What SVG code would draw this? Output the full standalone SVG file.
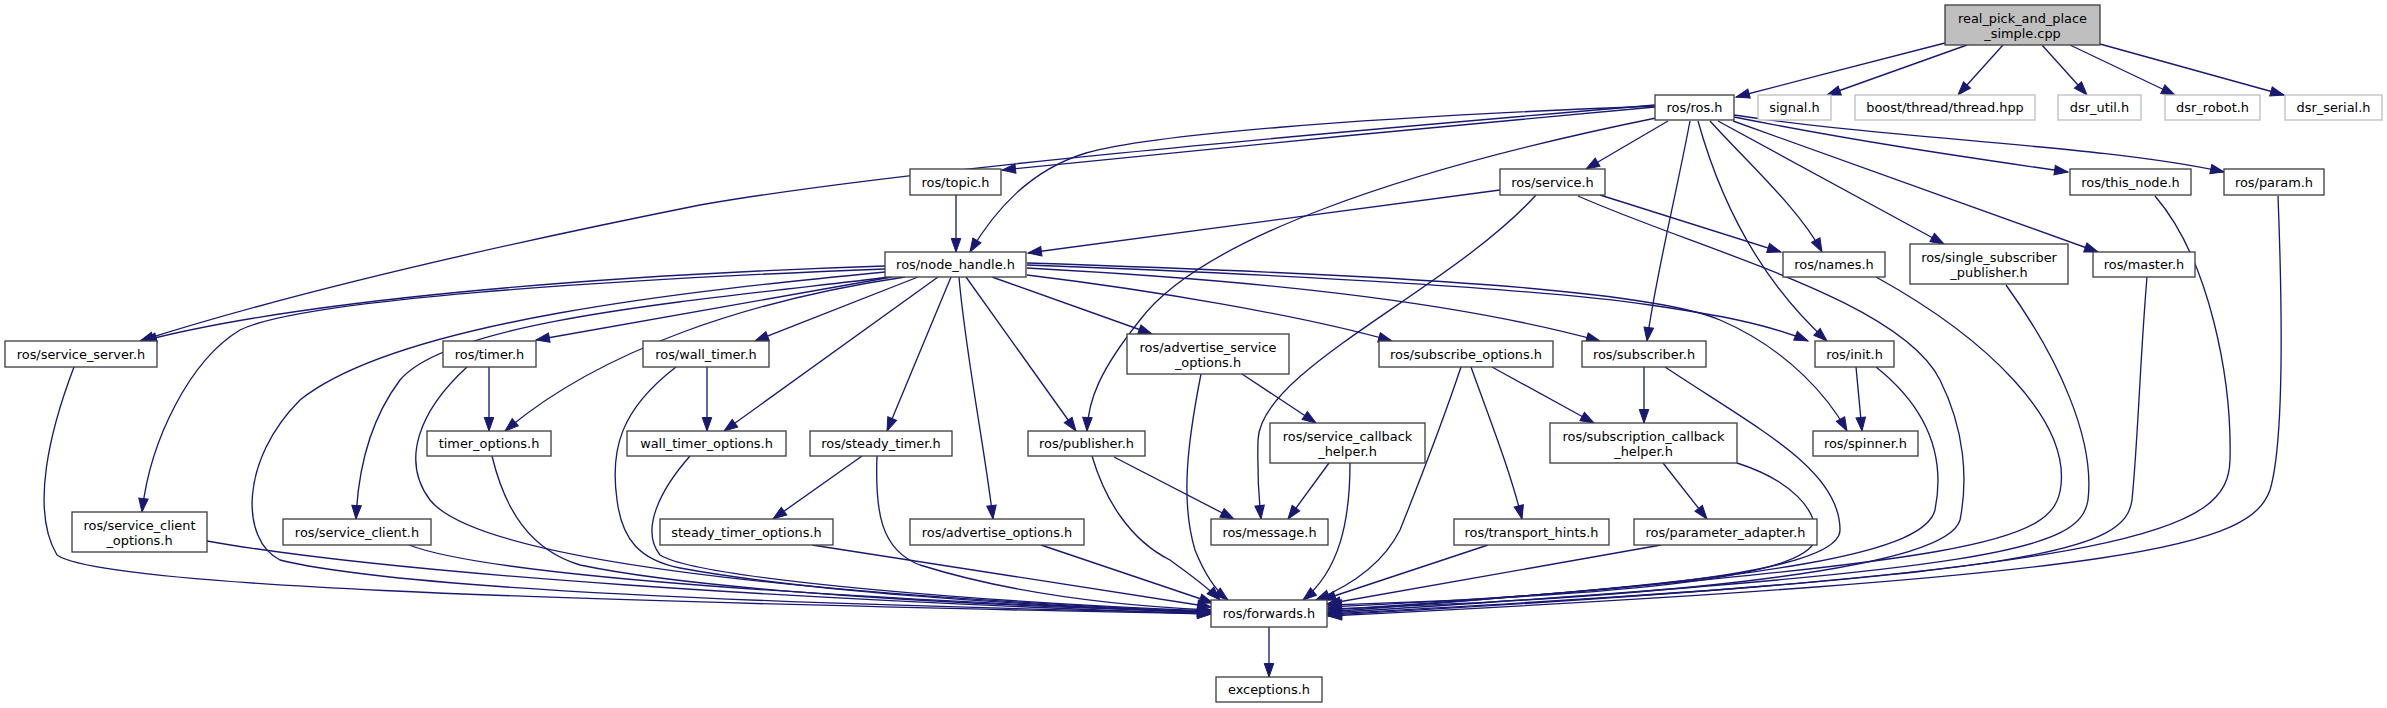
<svg xmlns="http://www.w3.org/2000/svg" width="2387" height="708" viewBox="0 0 2387 708">
<style>
.n rect{fill:#fff;stroke:#404040;stroke-width:1.33}
.n.g rect{stroke:#bfbfbf}
.n.r rect{fill:#bfbfbf}
text{font-family:"DejaVu Sans","Liberation Sans",sans-serif;font-size:12.9px;text-anchor:middle;fill:#000}
.e path{fill:none;stroke:#191970;stroke-width:1.33;marker-end:url(#a)}
</style>
<defs>
<marker id="a" markerWidth="15" markerHeight="11" refX="13.5" refY="4.75" orient="auto" markerUnits="userSpaceOnUse" overflow="visible"><path d="M0,0 L13.5,4.75 L0,9.5 z" fill="#191970" stroke="#191970" stroke-width="1"/></marker>
</defs>
<rect width="2387" height="708" fill="#fff"/>
<g class="e" id="edges">
<path d="M1945,43 C1900,55 1800,80 1736,97"/>
<path d="M1967,45 L1827,95"/>
<path d="M2003,45 L1958,95"/>
<path d="M2042,45 L2087,95"/>
<path d="M2070,45 L2175,95"/>
<path d="M2100,44 L2284,95"/>
<path d="M1655,107 C1450,125 1200,150 1002,170"/>
<path d="M1655,106 C1350,118 1150,135 1086,153 C1030,170 995,210 970,252"/>
<path d="M1655,105 C1300,135 900,170 700,205 C500,245 300,290 140,341"/>
<path d="M1656,118 C1400,170 1200,240 1140,320 C1100,370 1088,400 1087,431"/>
<path d="M1668,121 L1586,169"/>
<path d="M1690,121 C1675,200 1655,280 1647,341"/>
<path d="M1698,121 C1720,200 1760,280 1827,341"/>
<path d="M1710,121 C1750,165 1800,210 1822,252"/>
<path d="M1718,121 L1944,244"/>
<path d="M1733,121 L2098,252"/>
<path d="M1734,117 C1850,140 1950,155 2068,172"/>
<path d="M1734,115 C1900,140 2100,145 2224,172"/>
<path d="M956,195 L956,252"/>
<path d="M1500,190 L1028,253"/>
<path d="M1600,195 L1781,252"/>
<path d="M1536,195 C1450,290 1260,370 1258,440 C1257,480 1259,500 1261,519"/>
<path d="M1578,196 C1700,250 1900,300 1940,380 C1965,430 1968,480 1960,520 C1945,575 1600,600 1328,609"/>
<path d="M885,266 C600,275 300,300 143,341"/>
<path d="M885,269 C600,280 300,300 240,330 C190,360 150,440 142,512"/>
<path d="M885,272 C700,290 400,320 300,400 C240,460 240,540 280,560 C400,590 800,605 1211,613"/>
<path d="M890,277 C700,300 450,320 400,380 C370,420 358,470 356,519"/>
<path d="M892,277 L536,340"/>
<path d="M905,277 C750,300 600,350 505,431"/>
<path d="M918,277 L755,341"/>
<path d="M938,277 L724,431"/>
<path d="M951,277 L887,431"/>
<path d="M959,277 C965,350 985,450 993,519"/>
<path d="M966,277 L1076,431"/>
<path d="M992,277 L1152,334"/>
<path d="M1027,275 C1150,290 1300,315 1392,341"/>
<path d="M1027,268 C1250,280 1450,300 1600,341"/>
<path d="M1027,265 C1300,275 1550,290 1650,305 C1720,315 1770,325 1808,341"/>
<path d="M1027,263 C1400,275 1650,290 1720,320 C1790,350 1830,400 1847,431"/>
<path d="M74,367 C50,430 30,510 57,555 C100,585 500,600 1211,614"/>
<path d="M489,367 L489,431"/>
<path d="M467,367 C420,410 400,460 430,500 C470,550 700,590 1211,612"/>
<path d="M707,367 L707,431"/>
<path d="M676,367 C620,410 610,450 617,500 C622,540 640,560 680,568 C800,590 1000,605 1211,612"/>
<path d="M1242,374 L1316,423"/>
<path d="M1201,374 C1188,440 1180,500 1195,550 C1205,575 1215,590 1228,600"/>
<path d="M1471,367 C1490,420 1510,470 1522,519"/>
<path d="M1492,367 L1594,423"/>
<path d="M1461,367 C1440,430 1420,480 1400,530 C1380,570 1340,590 1316,600"/>
<path d="M1644,367 L1644,423"/>
<path d="M1665,367 C1760,430 1840,470 1840,530 C1840,565 1700,590 1328,607"/>
<path d="M1856,367 L1862,431"/>
<path d="M1876,367 C1930,410 1945,460 1935,510 C1925,550 1800,580 1328,610"/>
<path d="M1876,277 C1990,340 2068,420 2061,485 C2055,545 1980,560 1328,612"/>
<path d="M2006,285 C2060,360 2095,440 2088,500 C2080,550 2000,570 1328,613"/>
<path d="M2147,277 C2140,360 2138,440 2132,500 C2125,550 2050,575 1328,614"/>
<path d="M2155,196 C2210,260 2232,380 2230,460 C2228,530 2150,570 1328,615"/>
<path d="M2278,196 C2282,300 2285,440 2270,490 C2250,545 2150,575 1328,616"/>
<path d="M492,456 C505,510 530,550 580,565 C700,590 950,605 1211,612"/>
<path d="M690,456 C660,490 640,530 660,555 C700,580 1000,603 1211,611"/>
<path d="M862,456 L773,519"/>
<path d="M877,456 C875,510 880,550 920,565 C1000,590 1100,605 1211,610"/>
<path d="M1092,456 C1105,500 1130,540 1170,560 C1190,575 1205,585 1220,600"/>
<path d="M1114,457 L1234,519"/>
<path d="M1329,463 L1288,519"/>
<path d="M1350,463 C1350,520 1340,570 1303,600"/>
<path d="M1663,463 L1707,519"/>
<path d="M1737,463 C1790,480 1820,510 1815,540 C1805,575 1650,595 1328,605"/>
<path d="M207,541 C400,575 800,600 1211,614"/>
<path d="M409,545 C500,580 900,600 1211,613"/>
<path d="M812,545 L1211,607"/>
<path d="M1041,545 L1213,603"/>
<path d="M1488,545 L1322,600"/>
<path d="M1661,545 L1327,604"/>
<path d="M1269,627 L1269,677"/>
</g>
<g id="n_root" class="n r"><rect x="1945" y="5" width="155" height="40"/><text x="2022.5" y="23">real_pick_and_place</text><text x="2022.5" y="38">_simple.cpp</text></g>
<g id="n_ros" class="n"><rect x="1655" y="95" width="79" height="25"/><text x="1694.5" y="112">ros/ros.h</text></g>
<g id="n_signal" class="n g"><rect x="1758" y="95" width="73" height="25"/><text x="1794.5" y="112">signal.h</text></g>
<g id="n_boost" class="n g"><rect x="1855" y="95" width="180" height="25"/><text x="1945" y="112">boost/thread/thread.hpp</text></g>
<g id="n_dsr_util" class="n g"><rect x="2058" y="95" width="83" height="25"/><text x="2099.5" y="112">dsr_util.h</text></g>
<g id="n_dsr_robot" class="n g"><rect x="2165" y="95" width="95" height="25"/><text x="2212.5" y="112">dsr_robot.h</text></g>
<g id="n_dsr_serial" class="n g"><rect x="2285" y="95" width="97" height="25"/><text x="2333.5" y="112">dsr_serial.h</text></g>
<g id="n_topic" class="n"><rect x="910" y="169" width="91" height="26"/><text x="955.5" y="186.5">ros/topic.h</text></g>
<g id="n_service" class="n"><rect x="1500" y="169" width="105" height="26"/><text x="1552.5" y="186.5">ros/service.h</text></g>
<g id="n_this_node" class="n"><rect x="2070" y="169" width="121" height="26"/><text x="2130.5" y="186.5">ros/this_node.h</text></g>
<g id="n_param" class="n"><rect x="2224" y="169" width="100" height="26"/><text x="2274" y="186.5">ros/param.h</text></g>
<g id="n_node_handle" class="n"><rect x="885" y="252" width="141" height="25"/><text x="955.5" y="269">ros/node_handle.h</text></g>
<g id="n_names" class="n"><rect x="1783" y="252" width="102" height="25"/><text x="1834" y="269">ros/names.h</text></g>
<g id="n_single_sub" class="n"><rect x="1910" y="244" width="158" height="40"/><text x="1989" y="262">ros/single_subscriber</text><text x="1989" y="277">_publisher.h</text></g>
<g id="n_master" class="n"><rect x="2093" y="252" width="102" height="25"/><text x="2144" y="269">ros/master.h</text></g>
<g id="n_service_server" class="n"><rect x="5" y="341" width="152" height="26"/><text x="81" y="358.5">ros/service_server.h</text></g>
<g id="n_timer" class="n"><rect x="443" y="341" width="93" height="26"/><text x="489.5" y="358.5">ros/timer.h</text></g>
<g id="n_wall_timer" class="n"><rect x="643" y="341" width="126" height="26"/><text x="706" y="358.5">ros/wall_timer.h</text></g>
<g id="n_adv_srv_opt" class="n"><rect x="1127" y="334" width="162" height="40"/><text x="1208" y="352">ros/advertise_service</text><text x="1208" y="367">_options.h</text></g>
<g id="n_sub_opt" class="n"><rect x="1379" y="341" width="174" height="26"/><text x="1466" y="358.5">ros/subscribe_options.h</text></g>
<g id="n_subscriber" class="n"><rect x="1582" y="341" width="124" height="26"/><text x="1644" y="358.5">ros/subscriber.h</text></g>
<g id="n_init" class="n"><rect x="1815" y="341" width="79" height="26"/><text x="1854.5" y="358.5">ros/init.h</text></g>
<g id="n_timer_opt" class="n"><rect x="427" y="431" width="124" height="25"/><text x="489" y="448">timer_options.h</text></g>
<g id="n_wall_timer_opt" class="n"><rect x="627" y="431" width="159" height="25"/><text x="706.5" y="448">wall_timer_options.h</text></g>
<g id="n_steady_timer" class="n"><rect x="810" y="431" width="142" height="25"/><text x="881" y="448">ros/steady_timer.h</text></g>
<g id="n_publisher" class="n"><rect x="1028" y="431" width="117" height="25"/><text x="1086.5" y="448">ros/publisher.h</text></g>
<g id="n_srv_cb" class="n"><rect x="1270" y="423" width="155" height="40"/><text x="1347.5" y="441">ros/service_callback</text><text x="1347.5" y="456">_helper.h</text></g>
<g id="n_sub_cb" class="n"><rect x="1550" y="423" width="187" height="40"/><text x="1643.5" y="441">ros/subscription_callback</text><text x="1643.5" y="456">_helper.h</text></g>
<g id="n_spinner" class="n"><rect x="1813" y="431" width="105" height="25"/><text x="1865.5" y="448">ros/spinner.h</text></g>
<g id="n_srv_client_opt" class="n"><rect x="72" y="512" width="135" height="40"/><text x="139.5" y="530">ros/service_client</text><text x="139.5" y="545">_options.h</text></g>
<g id="n_srv_client" class="n"><rect x="283" y="519" width="148" height="26"/><text x="357" y="536.5">ros/service_client.h</text></g>
<g id="n_steady_timer_opt" class="n"><rect x="660" y="519" width="173" height="26"/><text x="746.5" y="536.5">steady_timer_options.h</text></g>
<g id="n_adv_opt" class="n"><rect x="910" y="519" width="174" height="26"/><text x="997" y="536.5">ros/advertise_options.h</text></g>
<g id="n_message" class="n"><rect x="1211" y="519" width="117" height="26"/><text x="1269.5" y="536.5">ros/message.h</text></g>
<g id="n_transport" class="n"><rect x="1454" y="519" width="155" height="26"/><text x="1531.5" y="536.5">ros/transport_hints.h</text></g>
<g id="n_param_adapter" class="n"><rect x="1634" y="519" width="183" height="26"/><text x="1725.5" y="536.5">ros/parameter_adapter.h</text></g>
<g id="n_forwards" class="n"><rect x="1211" y="600" width="116" height="27"/><text x="1269" y="618">ros/forwards.h</text></g>
<g id="n_exceptions" class="n"><rect x="1216" y="677" width="106" height="25"/><text x="1269" y="694">exceptions.h</text></g>
</svg>
